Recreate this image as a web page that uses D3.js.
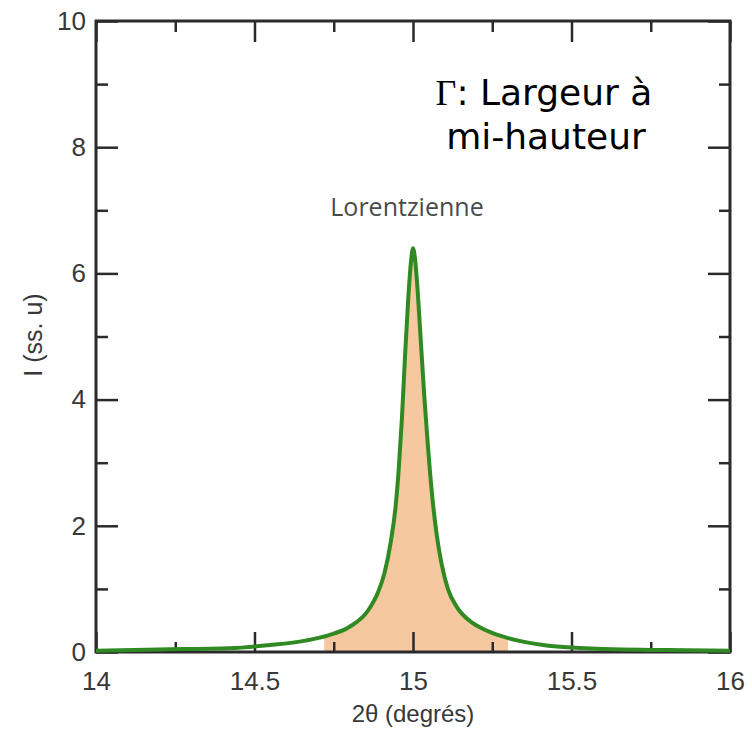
<!DOCTYPE html>
<html>
<head>
<meta charset="utf-8">
<script src="https://cdn.jsdelivr.net/npm/d3@7"></script>
<style>
  body { margin: 0; background: #fff; }
  svg { display: block; }
</style>
</head>
<body>
<div id="chart"></div>
<script>
// ---- data ----
var angles = [14.00, 14.20, 14.42, 14.55, 14.66, 14.73, 14.80, 14.86, 14.89, 14.91, 14.93,
              14.945, 14.955, 14.965, 14.975, 14.985, 14.993, 15.00, 15.007, 15.015, 15.025,
              15.035, 15.045, 15.06, 15.075, 15.09, 15.11, 15.14, 15.18, 15.22, 15.28,
              15.35, 15.41, 15.54, 15.80, 16.00];
var intensity = [0.02, 0.04, 0.06, 0.11, 0.18, 0.26, 0.40, 0.67, 0.95, 1.25, 1.75,
                 2.30, 2.90, 3.70, 4.70, 5.60, 6.15, 6.40, 6.20, 5.70, 4.90,
                 4.10, 3.40, 2.50, 1.85, 1.40, 1.00, 0.70, 0.49, 0.37, 0.25,
                 0.16, 0.11, 0.06, 0.03, 0.02];
var fillRange = [14.72, 15.30];          // shaded part under the peak
var xMajor = [14, 14.5, 15, 15.5, 16];
var xMinor = [14.25, 14.75, 15.25, 15.75];
var yMajor = [0, 2, 4, 6, 8, 10];
var yMinor = [1, 3, 5, 7, 9];
var xTitle = "2\u03b8 (degrés)";
var yTitle = "I (ss. u)";
var peakLabel = "Lorentzienne";
var noteLines = ["Largeur à", "mi-hauteur"];

// ---- setup ----
var W = 752, H = 734;
var margin = { top: 21, right: 22, bottom: 82, left: 96 };
var width = W - margin.left - margin.right;
var height = H - margin.top - margin.bottom;

var svg = d3.select("#chart").append("svg")
    .attr("width", W)
    .attr("height", H);
var g = svg.append("g")
    .attr("transform", "translate(" + margin.left + "," + margin.top + ")");

var x = d3.scaleLinear().domain([14, 16]).range([0, width]);
var y = d3.scaleLinear().domain([0, 10]).range([height, 0]);

var pts = angles.map((a, i) => [a, intensity[i]]);

// shaded area, clipped to the range around the peak
g.append("clipPath").attr("id", "fillClip")
  .append("rect")
    .attr("x", x(fillRange[0]))
    .attr("y", 0)
    .attr("width", x(fillRange[1]) - x(fillRange[0]))
    .attr("height", height);

var area = d3.area().curve(d3.curveMonotoneX)
    .x(d => x(d[0])).y0(y(0)).y1(d => y(d[1]));
g.append("path").datum(pts)
    .attr("clip-path", "url(#fillClip)")
    .attr("d", area)
    .style("fill", "#f6c8a0");

// ---- axes ----
var labelFont = "'Liberation Sans', Arial, sans-serif";

function styleAxis(sel) {
  sel.select(".domain").remove();
  sel.selectAll(".tick line").style("stroke", "#2a2a2a").style("stroke-width", "2.5px");
  sel.selectAll(".tick text")
    .style("font-family", labelFont)
    .style("font-size", "26px")
    .style("fill", "#383838");
}

var fmt = d => String(d);

g.append("g").attr("transform", "translate(0," + height + ")")
  .call(d3.axisBottom(x).tickValues(xMajor).tickFormat(fmt).tickSize(-20).tickPadding(20))
  .call(styleAxis);
g.append("g").attr("transform", "translate(0," + height + ")")
  .call(d3.axisBottom(x).tickValues(xMinor).tickFormat("").tickSize(-10))
  .call(styleAxis);
g.append("g")
  .call(d3.axisTop(x).tickValues(xMajor).tickFormat("").tickSize(-21))
  .call(styleAxis);
g.append("g")
  .call(d3.axisTop(x).tickValues(xMinor).tickFormat("").tickSize(-11))
  .call(styleAxis);

g.append("g")
  .call(d3.axisLeft(y).tickValues(yMajor).tickFormat(fmt).tickSize(-22).tickPadding(10))
  .call(styleAxis);
g.append("g")
  .call(d3.axisLeft(y).tickValues(yMinor).tickFormat("").tickSize(-12))
  .call(styleAxis);
g.append("g").attr("transform", "translate(" + width + ",0)")
  .call(d3.axisRight(y).tickValues(yMajor).tickFormat("").tickSize(-22))
  .call(styleAxis);
g.append("g").attr("transform", "translate(" + width + ",0)")
  .call(d3.axisRight(y).tickValues(yMinor).tickFormat("").tickSize(-11))
  .call(styleAxis);

// frame
g.append("rect")
    .attr("width", width).attr("height", height)
    .style("fill", "none")
    .style("stroke", "#2a2a2a")
    .style("stroke-width", "3px");

// ---- the curve ----
var line = d3.line().curve(d3.curveMonotoneX).x(d => x(d[0])).y(d => y(d[1]));
g.append("path").datum(pts)
    .attr("d", line)
    .style("fill", "none")
    .style("stroke", "#2f8a22")
    .style("stroke-width", "4px")
    .style("stroke-linejoin", "round");

// ---- titles ----
svg.append("text")
    .attr("x", margin.left + x(15))
    .attr("y", 722)
    .attr("text-anchor", "middle")
    .style("font-family", labelFont)
    .style("font-size", "24px")
    .style("fill", "#383838")
    .text(xTitle);

svg.append("text")
    .attr("transform", "translate(42,335) rotate(-90)")
    .attr("text-anchor", "middle")
    .style("font-family", labelFont)
    .style("font-size", "25px")
    .style("fill", "#383838")
    .text(yTitle);

svg.append("text")
    .attr("x", 407)
    .attr("y", 216)
    .attr("text-anchor", "middle")
    .style("font-family", "'Open Sans', sans-serif")
    .style("font-size", "25px")
    .style("fill", "#4a4a4a")
    .text(peakLabel);

// note in the top right corner
var note = svg.append("text")
    .attr("text-anchor", "middle")
    .style("font-family", "'Comic Sans MS', 'DejaVu Sans', sans-serif")
    .style("font-size", "36px")
    .style("fill", "#000");
var first = note.append("tspan").attr("x", 544).attr("y", 105);
first.append("tspan").style("font-family", "'Liberation Serif', serif").text("\u0393");
first.append("tspan").text(": " + noteLines[0]);
note.append("tspan").attr("x", 546).attr("y", 149).text(noteLines[1]);
</script>
</body>
</html>
